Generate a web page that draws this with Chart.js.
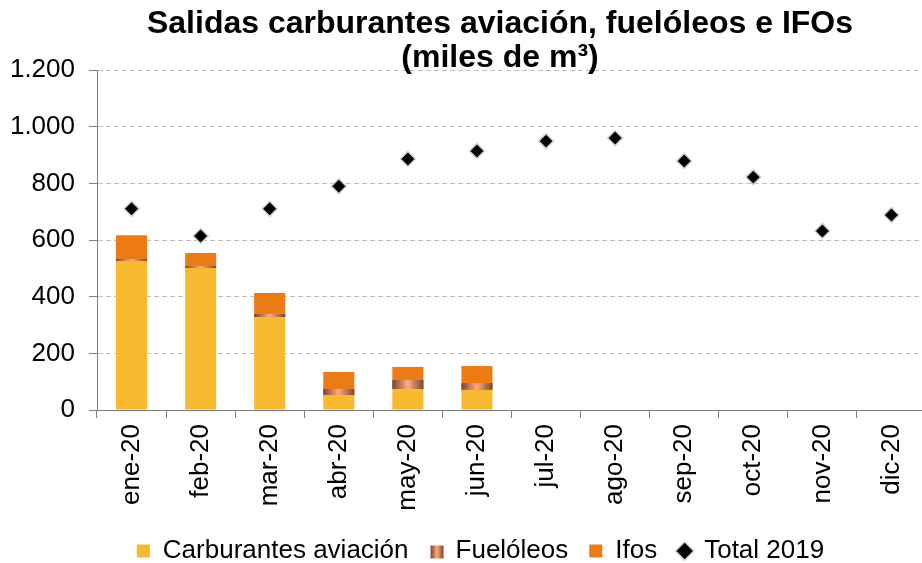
<!DOCTYPE html>
<html>
<head>
<meta charset="utf-8">
<script src="https://cdn.jsdelivr.net/npm/chart.js@4"></script>
<style>
  body { margin: 0; background: #fff; overflow: hidden; }
  #wrap { width: 922px; height: 563px; overflow: hidden; }
</style>
</head>
<body>
<div id="wrap"><canvas id="chart" width="935" height="563"></canvas></div>
<script>
const meses = ['ene-20', 'feb-20', 'mar-20', 'abr-20', 'may-20', 'jun-20', 'jul-20', 'ago-20', 'sep-20', 'oct-20', 'nov-20', 'dic-20'];
const aviacion = [526, 501, 328, 53, 74, 71];
const fueloleos = [7, 7, 11, 21, 32, 24];
const ifos = [84, 46, 74, 60, 46, 60];
const total2019 = [710, 614, 710, 790, 886, 914, 949, 960, 879, 822, 632, 688];
const yTicks = [0, 200, 400, 600, 800, 1000, 1200];

const FONT = "'Liberation Sans', Arial, sans-serif";

// degradado marrón de la serie Fuelóleos
const fuelGradient = (ctx, x0, x1) => {
    const g = ctx.createLinearGradient(x0, 0, x1, 0);
    g.addColorStop(0, '#7a4630');
    g.addColorStop(0.5, '#ffab7c');
    g.addColorStop(1, '#7a4630');
    return g;
};

const fuelPlugin = {
    id: 'fuelPlugin',
    afterLayout(chart) {
        // la leyenda del original está algo desplazada a la derecha
        const lg = chart.legend;
        lg.left += 14;
        lg.right += 14;
    },
    afterDatasetDraw(chart, args) {
        if (args.index !== 1) return;
        const ctx = chart.ctx;
        args.meta.data.forEach(el => {
            const { x, y, base, width } = el.getProps(['x', 'y', 'base', 'width'], true);
            ctx.save();
            ctx.fillStyle = fuelGradient(ctx, x - width / 2, x + width / 2);
            ctx.fillRect(x - width / 2, Math.min(y, base), width, Math.abs(base - y));
            ctx.restore();
        });
    },
    afterDraw(chart) {
        const box = chart.legend.legendHitBoxes[1];
        if (!box) return;
        const ctx = chart.ctx;
        const size = 13;
        const bx = box.left + 1;
        const by = box.top + box.height / 2 - size / 2 + 1;
        ctx.save();
        ctx.fillStyle = '#fff';
        ctx.fillRect(bx - 2, by - 2, size + 4, size + 4);
        ctx.fillStyle = fuelGradient(ctx, bx, bx + size);
        ctx.fillRect(bx, by, size, size);
        ctx.restore();
    }
};

const titlePlugin = {
    id: 'titlePlugin',
    afterDraw(chart) {
        const ctx = chart.ctx;
        ctx.save();
        ctx.fillStyle = '#000';
        ctx.font = 'bold 32px ' + FONT;
        ctx.textAlign = 'center';
        ctx.textBaseline = 'alphabetic';
        ctx.fillText('Salidas carburantes aviación, fuelóleos e IFOs', 500, 33);
        ctx.fillText('(miles de m³)', 500, 67);
        ctx.restore();
    }
};

new Chart(document.getElementById('chart'), {
    type: 'bar',
    data: {
        labels: meses,
        datasets: [
            { label: 'Carburantes aviación', data: aviacion, backgroundColor: '#f7b92f', pointStyle: 'rect', stack: 's' },
            { label: 'Fuelóleos', data: fueloleos, backgroundColor: '#c47a55', pointStyle: 'rect', stack: 's' },
            { label: 'Ifos', data: ifos, backgroundColor: '#ec7a15', pointStyle: 'rect', stack: 's' },
            {
                type: 'line', label: 'Total 2019', data: total2019, showLine: false, order: -1,
                pointStyle: 'rectRot', pointRadius: 7.5, pointHoverRadius: 7.5,
                backgroundColor: '#000', borderColor: '#d0d0d0', pointBorderWidth: 1.5
            }
        ]
    },
    options: {
        responsive: false,
        animation: false,
        layout: { padding: { top: 70, right: 2, left: 0, bottom: -11 } },
        datasets: { bar: { categoryPercentage: 1, barPercentage: 0.45 } },
        plugins: {
            title: { display: false },
            tooltip: { enabled: false },
            legend: {
                position: 'bottom',
                labels: {
                    usePointStyle: true,
                    boxWidth: 13,
                    boxHeight: 13,
                    padding: 21,
                    color: '#000',
                    font: { family: FONT, size: 26 },
                    sort: (a, b) => a.datasetIndex - b.datasetIndex
                }
            }
        },
        scales: {
            x: {
                stacked: true,
                afterFit: s => { s.height = 107; },
                grid: { offset: true, drawOnChartArea: false, tickLength: 8, color: '#808080' },
                border: { color: '#808080', width: 1 },
                ticks: {
                    color: '#000', font: { family: FONT, size: 26 },
                    minRotation: 90, maxRotation: 90, padding: 6, autoSkip: false
                }
            },
            y: {
                stacked: true,
                min: 0, max: 1200,
                afterFit: s => { s.width = 97; },
                afterBuildTicks: s => { s.ticks = yTicks.map(v => ({ value: v })); },
                grid: { color: '#bfbfbf', lineWidth: 1, tickLength: 8, tickColor: '#808080', tickBorderDash: [] },
                border: { color: '#808080', width: 1, dash: [5, 3] },
                ticks: {
                    color: '#000', font: { family: FONT, size: 26 }, padding: 14,
                    callback: v => v.toLocaleString('es-ES', { useGrouping: 'always' }).replace(/\u00a0|,/g, '.')
                }
            }
        }
    },
    plugins: [fuelPlugin, titlePlugin]
});
</script>
</body>
</html>
